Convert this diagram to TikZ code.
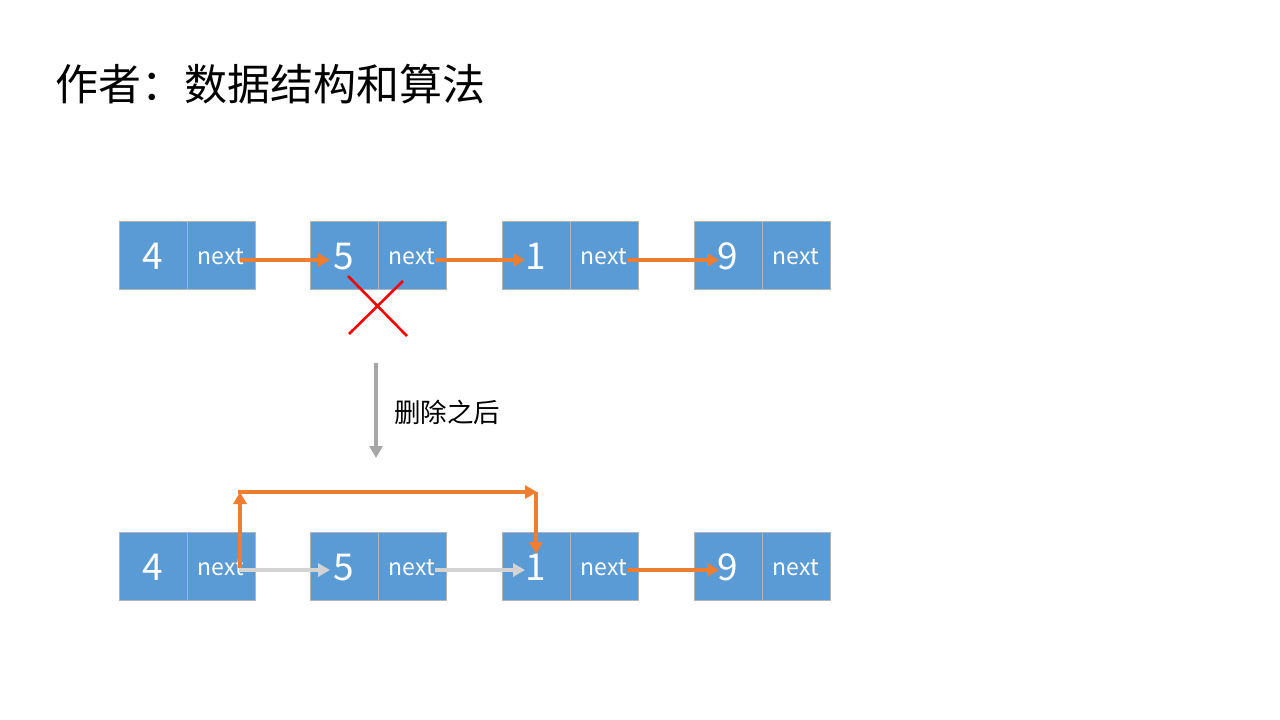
\documentclass[tikz,border=0pt]{standalone}
\usepackage{fontspec}
\setmainfont{Noto Sans CJK SC}
\usetikzlibrary{arrows.meta,positioning}

\definecolor{cellblue}{HTML}{5B9BD5}
\definecolor{cellline}{HTML}{B4B4B4}
\definecolor{linkorange}{HTML}{ED7D31}
\definecolor{oldlink}{HTML}{D3D3D3}
\definecolor{stepgray}{HTML}{A6A6A6}

\tikzset{
  valcell/.style={draw=cellline, line width=0.9pt, fill=cellblue, text=white,
    minimum width=68pt, minimum height=68pt, inner sep=0pt, outer sep=0pt,
    anchor=north west, text height=29pt, text depth=0pt, font=\fontsize{37}{37}\selectfont},
  nextcell/.style={valcell, text height=18pt, font=\fontsize{23}{23}\selectfont},
  link/.style={draw=linkorange, line width=3.4pt, -{Triangle[length=12pt,width=13pt]}},
  oldlinkstyle/.style={link, draw=oldlink},
  cut/.style={draw=red, line width=2.6pt},
}

\begin{document}
\begin{tikzpicture}[x=1pt, y=-1pt]
  \useasboundingbox (0,0) rectangle (1280,720);

  \node[anchor=west, inner sep=0pt, font=\fontsize{43}{43}\selectfont] (title) at (55,84) {作者：数据结构和算法};

  % before
  \foreach \v/\i/\x in {4/1/119, 5/2/310, 1/3/502, 9/4/694} {
    \node[valcell] (t\i) at (\x,221) {\v};
    \node[nextcell, right=0pt of t\i] (tn\i) {next};
  }
  \foreach \i/\j/\s/\e in {1/2/19/14, 2/3/23/11, 3/4/24/9}
    \draw[link] ([xshift=\s pt,yshift=-5pt]tn\i.center) -- ([xshift=-\e pt,yshift=-5pt]t\j.center);

  \draw[cut] (348,276) -- (407,336);
  \draw[cut] (403,281) -- (349,334);

  % step
  \coordinate (stepfrom) at (376,363);
  \coordinate (stepto) at (376,458);
  \draw[stepgray, line width=3.4pt, -{Triangle[length=12pt,width=13pt]}] (stepfrom) -- (stepto);
  \node[anchor=west, inner sep=0pt, font=\fontsize{26.5}{26.5}\selectfont] (steplabel) at (394,412) {删除之后};

  % after
  \foreach \v/\i/\x in {4/1/119, 5/2/310, 1/3/502, 9/4/694} {
    \node[valcell] (b\i) at (\x,532) {\v};
    \node[nextcell, right=0pt of b\i] (bn\i) {next};
  }
  \foreach \i/\j/\s/\e in {1/2/19/14, 2/3/23/11}
    \draw[oldlinkstyle] ([xshift=\s pt,yshift=-4pt]bn\i.center) -- ([xshift=-\e pt,yshift=-4pt]b\j.center);
  \draw[link] ([xshift=24pt,yshift=-4pt]bn3.center) -- ([xshift=-9pt,yshift=-4pt]b4.center);

  \coordinate (up) at (240,492);
  \coordinate (over) at (537,492);
  \draw[link] ([xshift=19pt,yshift=-2pt]bn1.center) -- (up);
  \draw[link] ([xshift=-1.7pt]up) -- (over);
  \draw[link] ([xshift=-1pt]over) -- ([xshift=0pt,yshift=12pt]b3.center);
\end{tikzpicture}
\end{document}
